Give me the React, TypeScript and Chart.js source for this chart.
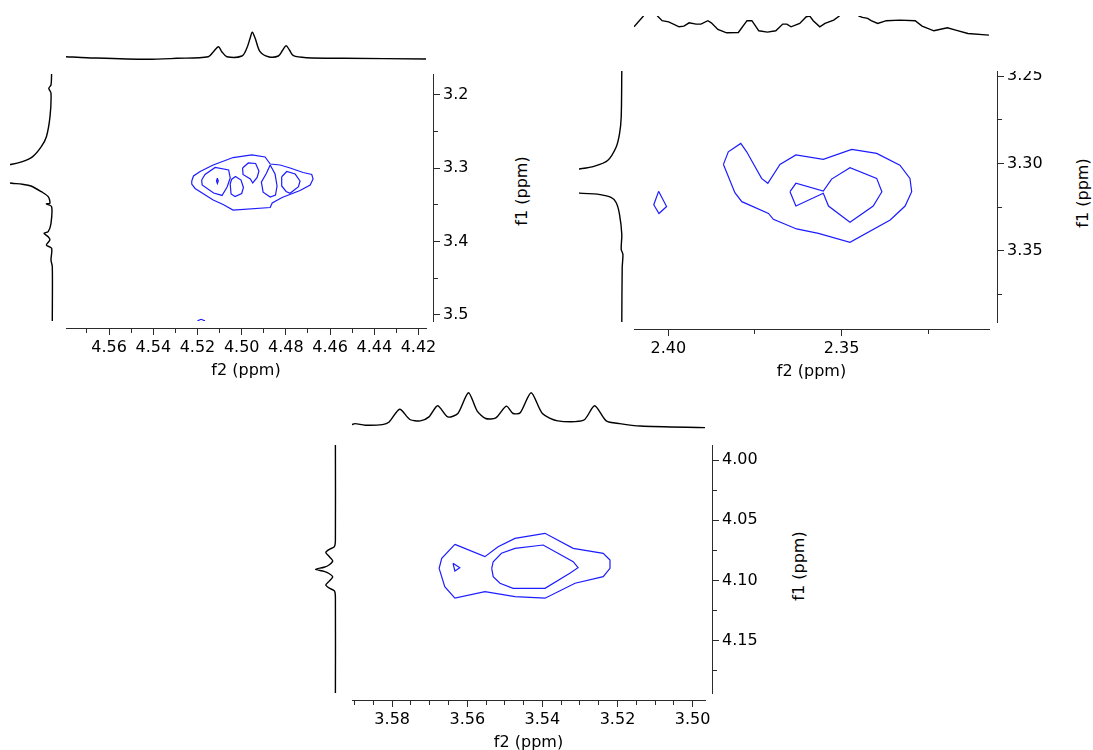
import React, { useEffect, useRef } from 'react';
import { Chart, registerables } from 'chart.js';

Chart.register(...registerables);

const FONT_FAMILY = "'DejaVu Sans', Verdana, sans-serif";
const AXIS_COLOR = '#2b2b2b';
const CONTOUR_COLOR = '#1c1cff';
const TRACE_COLOR = '#000000';
Chart.defaults.font.family = FONT_FAMILY;
Chart.defaults.font.size = 16;

type Pt = [number, number];

// ---------------- Panel 1 (f2 4.42–4.58, f1 3.17–3.51) ----------------
const p1F2Range: Pt = [4.4166, 4.5795];
const p1F1Range: Pt = [3.1714, 3.5082];
const p1Outer: Pt[] = [[4.5226,3.3173],[4.5218,3.3104],[4.5188,3.3043],[4.5129,3.2955],[4.5039,3.2853],[4.4954,3.2818],[4.4894,3.2846],[4.4871,3.2941],[4.4826,3.2955],[4.4781,3.2996],[4.4722,3.3057],[4.4683,3.3084],[4.4677,3.3145],[4.4690,3.3227],[4.4736,3.3303],[4.4817,3.3398],[4.4862,3.3472],[4.4871,3.3534],[4.5039,3.3569],[4.5084,3.3493],[4.5129,3.3432],[4.5211,3.3275],[4.5226,3.3214],[4.5226,3.3173]];
const p1InnerA: Pt[] = [[4.5181,3.3160],[4.5166,3.3084],[4.5120,3.2989],[4.5059,3.3022],[4.5052,3.3132],[4.5066,3.3255],[4.5089,3.3370],[4.5127,3.3336],[4.5179,3.3227],[4.5181,3.3160]];
const p1Tiny: Pt[] = [[4.5110,3.3136],[4.5106,3.3173],[4.5110,3.3207],[4.5114,3.3173],[4.5110,3.3136]];
const p1InnerB: Pt[] = [[4.5028,3.3111],[4.5003,3.3160],[4.4992,3.3262],[4.5000,3.3344],[4.5030,3.3385],[4.5048,3.3350],[4.5052,3.3214],[4.5046,3.3152],[4.5028,3.3111]];
const p1InnerC: Pt[] = [[4.4996,3.2996],[4.4970,3.2927],[4.4937,3.2934],[4.4922,3.3037],[4.4930,3.3125],[4.4950,3.3200],[4.4961,3.3145],[4.4994,3.3084],[4.4996,3.2996]];
const p1InnerD: Pt[] = [[4.4871,3.2955],[4.4849,3.3078],[4.4840,3.3241],[4.4847,3.3364],[4.4871,3.3391],[4.4903,3.3325],[4.4911,3.3189],[4.4888,3.3067],[4.4871,3.2955]];
const p1InnerE: Pt[] = [[4.4819,3.3115],[4.4796,3.3043],[4.4758,3.3078],[4.4736,3.3173],[4.4743,3.3251],[4.4781,3.3341],[4.4799,3.3316],[4.4819,3.3241],[4.4819,3.3115]];
const p1Edge: Pt[] = [[4.5200,3.5080],[4.5184,3.5059],[4.5166,3.5080]];
const p1TopF2 = [4.5795,4.5701,4.5429,4.5294,4.5151,4.5128,4.5105,4.5090,4.5067,4.4999,4.4977,4.4962,4.4952,4.4939,4.4917,4.4879,4.4834,4.4814,4.4799,4.4784,4.4766,4.4705,4.4540,4.4166];
const p1TopInt = [9.3,8.3,6.7,7.7,9.3,14.3,19.3,14.3,9.3,10,17.7,27.7,33.7,27.7,14.3,9.3,10,16,20.3,16,10.3,8.3,7.7,7];
const p1LeftF1 = [3.1714,3.1864,3.1909,3.1977,3.2296,3.2569,3.2705,3.2841,3.2910,3.2945,3.3075,3.3204,3.3218,3.3241,3.3319,3.3387,3.3477,3.3486,3.3523,3.3750,3.3864,3.3886,3.3932,3.3977,3.4046,3.4091,3.4250,3.4341,3.5082];
const p1LeftInt = [6.4,7,9.2,7,8,11.6,16.7,25.3,35.6,46,130,46,35.6,27,16.7,9.8,8.1,11.6,6.4,7,9.8,14,9.8,8.1,11.6,6.4,7,5.7,5.7];

// ---------------- Panel 2 (f2 2.31–2.41, f1 3.25–3.39) ----------------
const p2F2Range: Pt = [2.3075, 2.4099];
const p2F1Range: Pt = [3.2471, 3.3906];
const p2Outer: Pt[] = [[2.3841,3.3005],[2.3827,3.2933],[2.3791,3.2885],[2.3774,3.2933],[2.3731,3.3085],[2.3713,3.3113],[2.3678,3.3005],[2.3632,3.2951],[2.3553,3.2976],[2.3471,3.2919],[2.3399,3.2942],[2.3332,3.3009],[2.3303,3.3085],[2.3298,3.3161],[2.3317,3.3243],[2.3360,3.3323],[2.3476,3.3450],[2.3567,3.3399],[2.3630,3.3374],[2.3697,3.3319],[2.3711,3.3285],[2.3788,3.3218],[2.3808,3.3167],[2.3841,3.3005]];
const p2Inner: Pt[] = [[2.3649,3.3161],[2.3632,3.3113],[2.3553,3.3157],[2.3529,3.3089],[2.3476,3.3024],[2.3399,3.3085],[2.3384,3.3161],[2.3409,3.3243],[2.3476,3.3336],[2.3538,3.3243],[2.3553,3.3170],[2.3632,3.3243],[2.3649,3.3161]];
const p2Small: Pt[] = [[2.4028,3.3159],[2.4042,3.3236],[2.4027,3.3286],[2.4005,3.3246],[2.4028,3.3159]];
const p2TopF2 = [2.4099,2.4072,2.4053,2.4031,2.4018,2.3999,2.3969,2.3955,2.3940,2.3920,2.3906,2.3886,2.3876,2.3857,2.3832,2.3798,2.3773,2.3759,2.3739,2.3714,2.3690,2.3670,2.3658,2.3646,2.3621,2.3602,2.3592,2.3582,2.3563,2.3548,2.3523,2.3507,2.3479,2.3450,2.3440,2.3425,2.3415,2.3396,2.3371,2.3332,2.3288,2.3268,2.3234,2.3195,2.3171,2.3136,2.3075];
const p2TopInt = [13.2,23.9,40,23.9,19.3,18.2,13.2,13.9,17.2,15.9,15.9,19.3,17.2,10.5,7.2,7.5,19.3,19.3,9.2,7.9,9.2,15.9,15.9,13.2,16.6,23.3,23.9,19.3,13.2,16.6,19.9,23.9,40,23.9,22.6,21.6,19.3,16.6,19.3,19.9,19.3,13.9,9.2,12.2,9.9,6.5,4.9];
const p2LeftF1 = [3.2471,3.2735,3.2831,3.2907,3.2983,3.3016,3.3031,3.3100,3.3169,3.3175,3.3194,3.3223,3.3290,3.3405,3.3490,3.3519,3.3595,3.3906];
const p2LeftInt = [6.2,6.8,8.5,11.9,20.4,34,48.6,130,48.6,30.6,17,11.9,8.5,6.2,6.8,5.1,5.8,6.2];

// ---------------- Panel 3 (f2 3.50–3.59, f1 3.99–4.19) ----------------
const p3F2Range: Pt = [3.4967, 3.5907];
const p3F1Range: Pt = [3.9875, 4.1936];
const p3Outer: Pt[] = [[3.5633,4.0701],[3.5553,4.0803],[3.5518,4.0721],[3.5473,4.0651],[3.5393,4.0609],[3.5318,4.0734],[3.5238,4.0775],[3.5220,4.0831],[3.5220,4.0900],[3.5238,4.0969],[3.5313,4.1024],[3.5393,4.1148],[3.5473,4.1135],[3.5553,4.1094],[3.5633,4.1148],[3.5660,4.1052],[3.5675,4.0900],[3.5668,4.0817],[3.5633,4.0701]];
const p3Inner: Pt[] = [[3.5535,4.0900],[3.5531,4.0845],[3.5509,4.0775],[3.5473,4.0734],[3.5398,4.0706],[3.5318,4.0845],[3.5305,4.0895],[3.5327,4.0941],[3.5393,4.1066],[3.5478,4.1066],[3.5513,4.1024],[3.5531,4.0969],[3.5535,4.0900]];
const p3Tiny: Pt[] = [[3.5638,4.0858],[3.5620,4.0895],[3.5633,4.0922],[3.5638,4.0858]];
const p3TopF2 = [3.5907,3.5899,3.5872,3.5826,3.5808,3.5780,3.5753,3.5725,3.5702,3.5679,3.5652,3.5625,3.5597,3.5574,3.5551,3.5524,3.5496,3.5478,3.5459,3.5430,3.5400,3.5359,3.5290,3.5261,3.5230,3.5194,3.5139,3.4967];
const p3TopInt = [7.4,8.4,6.8,7.4,10.1,22.8,12.5,11.1,15.1,26.2,15.1,18.5,39.3,21.2,13.5,14.1,25.9,18.5,19.2,39.3,18.5,11.1,11.8,26.2,11.1,8.4,6,4.4];
const p3LeftF1 = [3.9875,4.0665,4.0719,4.0744,4.0769,4.0802,4.0838,4.0872,4.0891,4.0908,4.0925,4.0943,4.0972,4.1006,4.1039,4.1063,4.1088,4.1138,4.1936];
const p3LeftInt = [4.6,4.6,5.6,11,14.2,10.8,7.3,11,15.9,24.5,15.9,11,7.3,10.8,14.2,11,5.6,4.6,4.6];

// tick specs
const p1XTicks = { step: 0.01, major: 0.02, decimals: 2 };
const p1YTicks = { step: 0.05, major: 0.1, decimals: 1 };
const p2XTicks = { step: 0.025, major: 0.05, decimals: 2 };
const p2YTicks = { step: 0.025, major: 0.05, decimals: 2 };
const p3XTicks = { step: 0.005, major: 0.02, decimals: 2 };
const p3YTicks = { step: 0.025, major: 0.05, decimals: 2 };

interface TickSpec { step: number; major: number; decimals: number }

const isMajor = (v: number, major: number) => {
  const r = v / major;
  return Math.abs(r - Math.round(r)) < 1e-6;
};

const X_AXIS_H = 52;
const Y_AXIS_W = 60;

function mainConfig(o: { f2: Pt; f1: Pt; xT: TickSpec; yT: TickSpec; gapX: number; gapY: number; contours: Pt[][] }): any {
  const tickOpts = (spec: TickSpec) => ({
    stepSize: spec.step,
    includeBounds: false,
    autoSkip: false,
    maxRotation: 0,
    minRotation: 0,
    padding: 3,
    color: '#000',
    font: { family: FONT_FAMILY, size: 16 },
    callback: (v: any) => {
      const n = Number(v);
      return isMajor(n, spec.major) ? n.toFixed(spec.decimals) : '';
    },
  });
  const gridOpts = (spec: TickSpec) => ({
    display: true,
    drawOnChartArea: false,
    drawTicks: true,
    tickLength: 7,
    tickWidth: 1,
    tickColor: AXIS_COLOR,
    color: AXIS_COLOR,
    tickBorderDash: (ctx: any) => (ctx && ctx.tick && isMajor(ctx.tick.value, spec.major) ? [] : [4, 60]),
  });
  const noPad = (s: any) => {
    s.paddingTop = 0;
    s.paddingBottom = 0;
    s.paddingLeft = 0;
    s.paddingRight = 0;
  };
  return {
    type: 'scatter',
    data: {
      datasets: o.contours.map((c) => ({
        data: c.map(([x, y]) => ({ x, y })),
        showLine: true,
        borderColor: CONTOUR_COLOR,
        borderWidth: 1.2,
        pointRadius: 0,
        pointHoverRadius: 0,
        tension: 0,
        fill: false,
        xAxisID: 'x',
        yAxisID: 'y',
      })),
    },
    options: {
      animation: false,
      responsive: false,
      maintainAspectRatio: false,
      events: [],
      layout: { padding: 0 },
      plugins: { legend: { display: false }, tooltip: { enabled: false } },
      scales: {
        xGap: {
          axis: 'x', type: 'linear', position: 'bottom', weight: 0, min: 0, max: 1,
          grid: { display: false }, ticks: { display: false }, border: { display: false },
          afterFit: (s: any) => { s.height = o.gapY; noPad(s); },
        },
        x: {
          type: 'linear', position: 'bottom', weight: 1, reverse: true,
          min: o.f2[0], max: o.f2[1],
          grid: gridOpts(o.xT),
          border: { display: true, color: AXIS_COLOR, width: 1 },
          ticks: tickOpts(o.xT),
          title: { display: true, text: 'f2 (ppm)', color: '#000', font: { family: FONT_FAMILY, size: 16 }, padding: 0 },
          afterFit: (s: any) => { s.height = X_AXIS_H; noPad(s); },
        },
        yGap: {
          axis: 'y', type: 'linear', position: 'right', weight: 0, min: 0, max: 1,
          grid: { display: false }, ticks: { display: false }, border: { display: false },
          afterFit: (s: any) => { s.width = o.gapX; noPad(s); },
        },
        y: {
          type: 'linear', position: 'right', weight: 1, reverse: true,
          min: o.f1[0], max: o.f1[1],
          grid: gridOpts(o.yT),
          border: { display: true, color: AXIS_COLOR, width: 1 },
          ticks: tickOpts(o.yT),
          afterFit: (s: any) => { s.width = Y_AXIS_W; noPad(s); },
        },
      },
    },
  };
}

function traceConfig(o: { xs: number[]; ys: number[]; xMin: number; xMax: number; xRev: boolean; yMin: number; yMax: number; yRev: boolean; tension: number }): any {
  return {
    type: 'scatter',
    data: {
      datasets: [{
        data: o.xs.map((x, i) => ({ x, y: o.ys[i] })),
        showLine: true,
        borderColor: TRACE_COLOR,
        borderWidth: 1.4,
        pointRadius: 0,
        pointHoverRadius: 0,
        tension: o.tension,
        fill: false,
      }],
    },
    options: {
      animation: false,
      responsive: false,
      maintainAspectRatio: false,
      events: [],
      layout: { padding: 0 },
      plugins: { legend: { display: false }, tooltip: { enabled: false } },
      scales: {
        x: { type: 'linear', display: false, min: o.xMin, max: o.xMax, reverse: o.xRev },
        y: { type: 'linear', display: false, min: o.yMin, max: o.yMax, reverse: o.yRev },
      },
    },
  };
}

function ChartCanvas({ left, top, width, height, config }: { left: number; top: number; width: number; height: number; config: any }) {
  const ref = useRef<HTMLCanvasElement>(null);
  useEffect(() => {
    if (!ref.current) return;
    const chart = new Chart(ref.current, config);
    return () => chart.destroy();
  }, []);
  return (
    <canvas
      ref={ref}
      width={width}
      height={height}
      style={{ position: 'absolute', left, top, width, height, display: 'block' }}
    />
  );
}

function F1Label({ cx, cy }: { cx: number; cy: number }) {
  return (
    <div
      style={{
        position: 'absolute', left: cx, top: cy, transform: 'translate(-50%, -50%) rotate(-90deg)',
        fontFamily: FONT_FAMILY, fontSize: 16, color: '#000', whiteSpace: 'nowrap', lineHeight: '19px',
      }}
    >
      f1 (ppm)
    </div>
  );
}

export default function App() {
  const p1 = { left: 66, top: 74, w: 360, h: 247, gapX: 7, gapY: 7 };
  const p2 = { left: 634, top: 71, w: 355, h: 251, gapX: 8, gapY: 7 };
  const p3 = { left: 352, top: 445, w: 353, h: 248, gapX: 7, gapY: 7 };

  return (
    <div style={{ position: 'fixed', left: 0, top: 0, width: 1093, height: 750, overflow: 'hidden', background: '#fff' }}>
      {/* Panel 1 */}
      <ChartCanvas
        left={p1.left} top={p1.top} width={p1.w + p1.gapX + Y_AXIS_W} height={p1.h + p1.gapY + X_AXIS_H}
        config={mainConfig({ f2: p1F2Range, f1: p1F1Range, xT: p1XTicks, yT: p1YTicks, gapX: p1.gapX, gapY: p1.gapY,
          contours: [p1Outer, p1InnerA, p1Tiny, p1InnerB, p1InnerC, p1InnerD, p1InnerE, p1Edge] })}
      />
      <ChartCanvas left={66} top={20} width={360} height={46}
        config={traceConfig({ xs: p1TopF2, ys: p1TopInt, xMin: p1F2Range[0], xMax: p1F2Range[1], xRev: true, yMin: 0, yMax: 46, yRev: false, tension: 0.3 })} />
      <ChartCanvas left={10} top={p1.top} width={48} height={p1.h}
        config={traceConfig({ xs: p1LeftInt, ys: p1LeftF1, xMin: 0, xMax: 48, xRev: true, yMin: p1F1Range[0], yMax: p1F1Range[1], yRev: true, tension: 0.3 })} />
      <F1Label cx={521} cy={191} />

      {/* Panel 2 */}
      <ChartCanvas
        left={p2.left} top={p2.top} width={p2.w + p2.gapX + Y_AXIS_W} height={p2.h + p2.gapY + X_AXIS_H}
        config={mainConfig({ f2: p2F2Range, f1: p2F1Range, xT: p2XTicks, yT: p2YTicks, gapX: p2.gapX, gapY: p2.gapY,
          contours: [p2Outer, p2Inner, p2Small] })}
      />
      <ChartCanvas left={634} top={16} width={355} height={24}
        config={traceConfig({ xs: p2TopF2, ys: p2TopInt, xMin: p2F2Range[0], xMax: p2F2Range[1], xRev: true, yMin: 0, yMax: 24, yRev: false, tension: 0 })} />
      <ChartCanvas left={579} top={p2.top} width={49} height={p2.h}
        config={traceConfig({ xs: p2LeftInt, ys: p2LeftF1, xMin: 0, xMax: 49, xRev: true, yMin: p2F1Range[0], yMax: p2F1Range[1], yRev: true, tension: 0.3 })} />
      <F1Label cx={1082} cy={193} />

      {/* Panel 3 */}
      <ChartCanvas
        left={p3.left} top={p3.top} width={p3.w + p3.gapX + Y_AXIS_W} height={p3.h + p3.gapY + X_AXIS_H}
        config={mainConfig({ f2: p3F2Range, f1: p3F1Range, xT: p3XTicks, yT: p3YTicks, gapX: p3.gapX, gapY: p3.gapY,
          contours: [p3Outer, p3Inner, p3Tiny] })}
      />
      <ChartCanvas left={352} top={385} width={353} height={47}
        config={traceConfig({ xs: p3TopF2, ys: p3TopInt, xMin: p3F2Range[0], xMax: p3F2Range[1], xRev: true, yMin: 0, yMax: 47, yRev: false, tension: 0.25 })} />
      <ChartCanvas left={312} top={p3.top} width={28} height={p3.h}
        config={traceConfig({ xs: p3LeftInt, ys: p3LeftF1, xMin: 0, xMax: 28, xRev: true, yMin: p3F1Range[0], yMax: p3F1Range[1], yRev: true, tension: 0.25 })} />
      <F1Label cx={798} cy={566} />
    </div>
  );
}
